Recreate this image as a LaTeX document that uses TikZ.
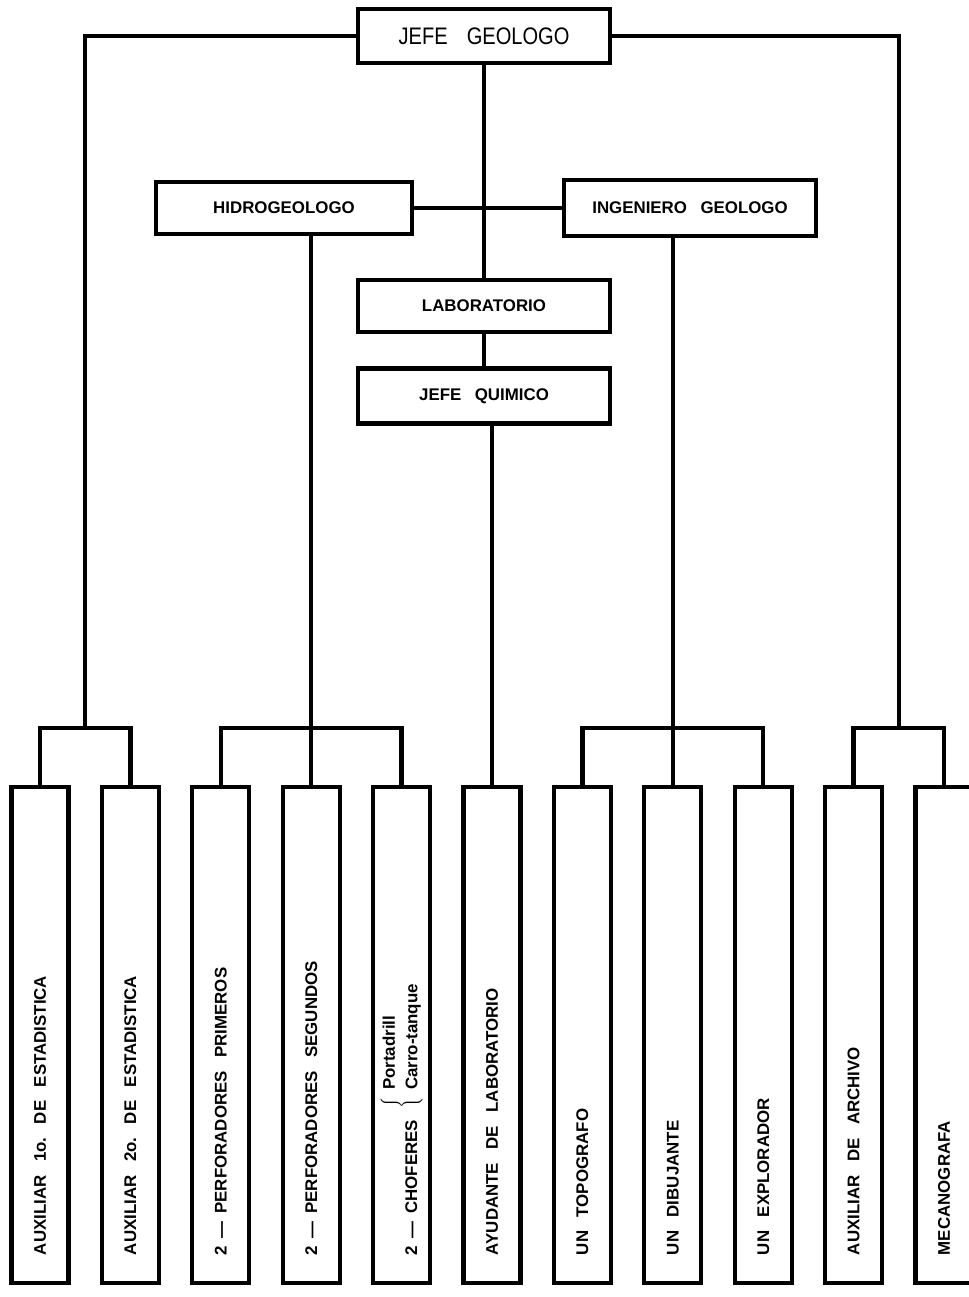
\documentclass[tikz,border=0pt]{standalone}
\usepackage{fontspec}
\usepackage{tikz}
\usetikzlibrary{calc,positioning}
\newfontfamily\orgfont{Liberation Sans}
\newfontfamily\headfont[FakeStretch=0.84]{Liberation Sans}
\newcommand{\widespaces}{\frenchspacing\spaceskip=0.8em plus 0.1em minus 0.1em\xspaceskip=0.8em}
\newcommand{\dashgap}{\hspace{0.45em}—\hspace{0.45em}}

\tikzset{
    orgline/.style={line width=3pt},
    topbox/.style={draw, line width=3pt, minimum width=6.3cm, minimum height=1.3cm,
        font=\orgfont\bfseries\fontsize{12}{14}\selectfont\widespaces},
    staffbox/.style={draw, line width=3pt, rotate=90, minimum height=1.425cm,
        text width=11cm, inner xsep=0.7cm, align=left,
        font=\orgfont\bfseries\fontsize{12}{16}\selectfont,
        execute at begin node={\widespaces}},
}

\begin{document}
\begin{tikzpicture}[x=0.025cm, y=-0.025cm]
    \fill[white] (0,0) rectangle (968,1297);
    \useasboundingbox (0,0) rectangle (968,1297);

    \node[topbox, minimum height=1.35cm, font=\headfont\fontsize{17}{20}\selectfont\widespaces] at (484, 36) (jefe) {JEFE GEOLOGO};
    \node[topbox, minimum width=6.4cm] at (284, 208) (hidro) {HIDROGEOLOGO};
    \node[topbox, minimum height=1.4cm] at (690, 208) (inge) {INGENIERO GEOLOGO};
    \node[topbox] at (484, 306) (lab) {LABORATORIO};
    \node[topbox, minimum height=1.375cm] at (484, 396) (quim) {JEFE QUIMICO};

    \node[staffbox] at (40, 1035) (aux1) {AUXILIAR 1o. DE ESTADISTICA};
    \node[staffbox] at (130.4, 1035) (aux2) {AUXILIAR 2o. DE ESTADISTICA};
    \node[staffbox] at (220.8, 1035) (perfA) {2\dashgap PERFORADORES PRIMEROS};
    \node[staffbox] at (311.2, 1035) (perfB) {2\dashgap PERFORADORES SEGUNDOS};
    \node[staffbox] at (401.6, 1035) (chof) {2\dashgap CHOFERES\hspace{0.7em}\raisebox{8pt}{$\left\{\hspace{0.4em}\begin{tabular}{@{}l@{}}Portadrill\\Carro-tanque\end{tabular}\right.$}};
    \node[staffbox] at (492, 1035) (ayud) {AYUDANTE DE LABORATORIO};
    \node[staffbox] at (582.4, 1035) (topo) {UN TOPOGRAFO};
    \node[staffbox] at (672.8, 1035) (dibu) {UN DIBUJANTE};
    \node[staffbox] at (763.2, 1035) (expl) {UN EXPLORADOR};
    \node[staffbox] at (853.6, 1035) (arch) {AUXILIAR DE ARCHIVO};
    \node[staffbox] at (944, 1035) (meca) {MECANOGRAFA};

    \coordinate (ylev) at (0, 728);
    \coordinate (bl) at ($(aux1.east |- ylev)!0.5!(aux2.east |- ylev)$);
    \coordinate (br) at ($(arch.east |- ylev)!0.5!(meca.east |- ylev)$);

    \draw[orgline] (jefe.south) -- (lab.north);
    \draw[orgline] (lab.south) -- (quim.north);
    \draw[orgline] (hidro.east) -- (inge.west);
    \draw[orgline] (jefe.west) -| (bl);
    \draw[orgline] (jefe.east) -| (br);

    \draw[orgline] (aux1.east) -- (aux1.east |- ylev) -- (aux2.east |- ylev) -- (aux2.east);

    \draw[orgline] (hidro.south -| perfB.east) -- (perfB.east);
    \draw[orgline] (perfA.east) -- (perfA.east |- ylev) -- (chof.east |- ylev) -- (chof.east);

    \draw[orgline] (quim.south -| ayud.east) -- (ayud.east);

    \draw[orgline] (inge.south -| dibu.east) -- (dibu.east);
    \draw[orgline] (topo.east) -- (topo.east |- ylev) -- (expl.east |- ylev) -- (expl.east);

    \draw[orgline] (arch.east) -- (arch.east |- ylev) -- (meca.east |- ylev) -- (meca.east);
\end{tikzpicture}
\end{document}
